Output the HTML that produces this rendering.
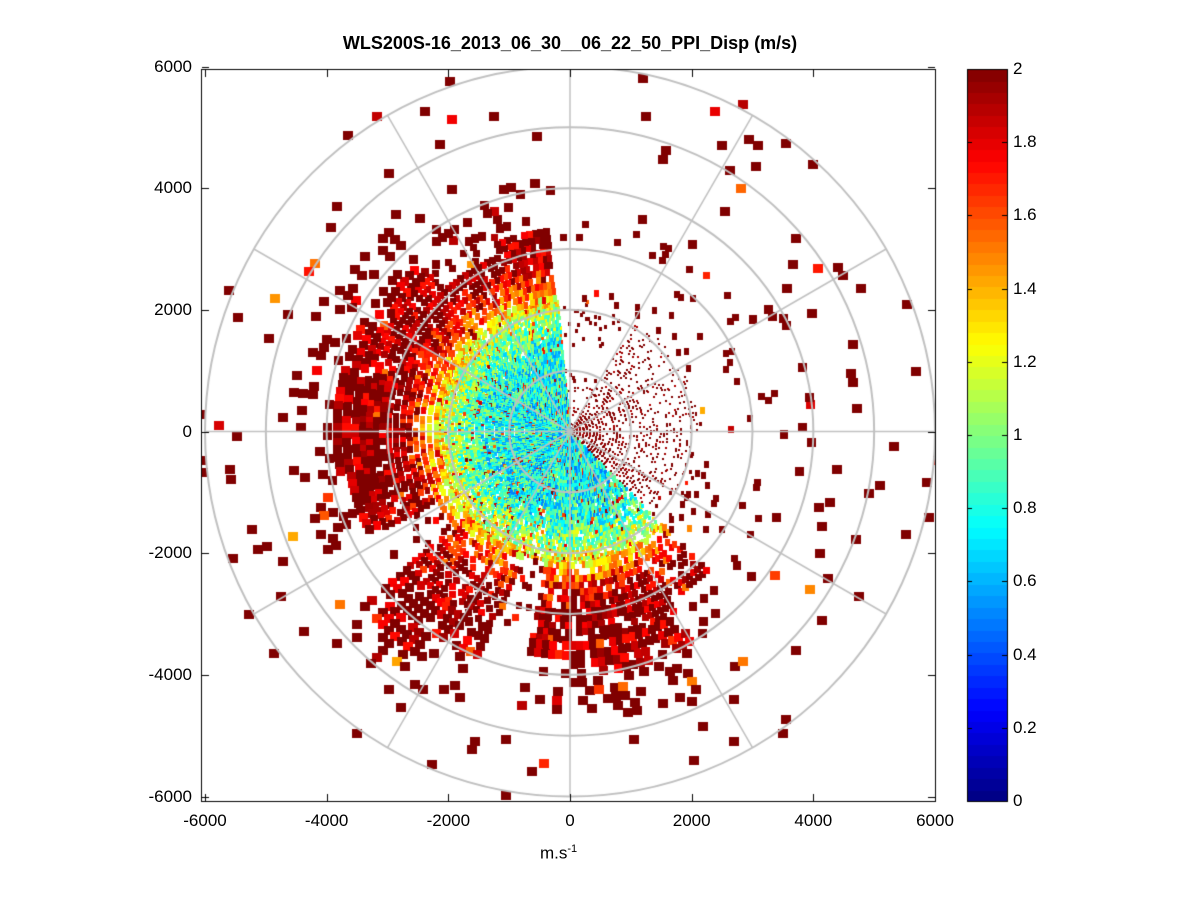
<!DOCTYPE html>
<html><head><meta charset="utf-8"><style>
body{margin:0;background:#fff;width:1201px;height:901px;overflow:hidden;font-family:"Liberation Sans",sans-serif}
#wrap{position:relative;width:1201px;height:901px}
.t{position:absolute;font-size:17px;color:#000;white-space:nowrap}
</style></head><body>
<div id="wrap">
<div class="t" style="left:0;width:1140px;text-align:center;top:33px;font-size:18px;font-weight:bold">WLS200S-16_2013_06_30__06_22_50_PPI_Disp (m/s)</div>
<canvas id="c" width="1201" height="901" style="position:absolute;left:0;top:0"></canvas>
<div class="t" style="left:540px;top:843px">m.s<sup style="font-size:11px">-1</sup></div>
<div id="labels"></div>
</div>
<script>
// Sector data: angle ranges (deg CCW from east), dense radius (m), fill density
const sectorStart=[95,110,130,150,170,190,207,218,235,248,258,275,300,315,330,0,60];
const sectorEnd=[110,130,150,170,190,207,218,235,248,258,275,300,315,330,360,60,95];
const sectorRadius=[3400,3100,3700,3900,3900,3700,2500,4500,4100,2200,3800,4000,3300,1800,2000,2100,800];
const sectorDensity=[0.85,0.85,0.9,0.92,0.92,0.9,0.8,0.85,0.75,0.7,0.85,0.8,0.6,0.3,0.2,0.2,0.05];
const sectorSpeckle=[0,0,0,0,0,0,0,0,0,0,0,0,0,1,1,1,1];
// Value profile vs range
const profileR=[0,1400,2000,2500,2900,6000];
const profileV=[0.75,0.8,1.1,1.7,2.0,2.0];
const xTicks=[-6000,-4000,-2000,0,2000,4000,6000];
const yTicks=[6000,4000,2000,0,-2000,-4000,-6000];
const cbTicks=[0,0.2,0.4,0.6,0.8,1,1.2,1.4,1.6,1.8,2];

const cx=570,cy=431.5,k=365/6000;
const X=v=>cx+v*k, Y=v=>cy-v*k;
const cv=document.getElementById('c'),g=cv.getContext('2d');
function jet(t){t=Math.max(0,Math.min(1,t));
 const f=x=>Math.max(0,Math.min(1,x));
 return 'rgb('+Math.round(255*f(1.5-Math.abs(4*t-3)))+','+Math.round(255*f(1.5-Math.abs(4*t-2)))+','+Math.round(255*f(1.5-Math.abs(4*t-1)))+')';}
let s=12345;function rnd(){s=(s*1103515245+12345)%2147483648;return s/2147483648;}
function prof(r){for(let i=1;i<profileR.length;i++)if(r<=profileR[i]){const a=(r-profileR[i-1])/(profileR[i]-profileR[i-1]);return profileV[i-1]+a*(profileV[i]-profileV[i-1]);}return 2;}
function sec(a){for(let i=0;i<sectorStart.length;i++)if(a>=sectorStart[i]&&a<sectorEnd[i])return i;return 0;}
g.save();g.beginPath();g.rect(201,69,734,732);g.clip();
let r=60;
while(r<6100){
 const dR=r<2200?55:(r<3500?110:150);
 const dA=r<2200?1.0:(r<3500?1.6:1.8);
 for(let a=0;a<360;a+=dA){
  const si=sec(a);
  let p;
  if(r<sectorRadius[si])p=sectorDensity[si];
  else if(r<sectorRadius[si]+800)p=sectorDensity[si]*0.3;
  else p=0.05;
  if(rnd()>p)continue;
  let v;
  const sp=sectorSpeckle[si]&&r<sectorRadius[si];
  if(sp)v=1.9+rnd()*0.2;
  else if(r>=sectorRadius[si])v=rnd()<0.88?2:1.4+rnd()*0.6;
  else {v=prof(r)+(rnd()-0.5)*0.6; if(rnd()<0.05)v=1.5+rnd()*0.5;}
  const th=(a+dA/2)*Math.PI/180;
  let w=Math.max(3,Math.min(10,r*k*dA*Math.PI/180*1.25));
  let h=Math.max(3.5,Math.min(9,dR*k*1.05));
  if(sp){w=Math.max(2,w*0.6);h=Math.max(2,h*0.6);}
  g.fillStyle=v>=1.95?'#800000':jet(v/2);
  g.fillRect(Math.round(X(r*Math.cos(th))-w/2),Math.round(Y(r*Math.sin(th))-h/2),Math.round(w),Math.round(h));
 }
 r+=dR;
}
g.strokeStyle='#c0c0c0';g.lineWidth=2;
for(let q=1000;q<=6000;q+=1000){g.beginPath();g.arc(cx,cy,q*k,0,2*Math.PI);g.stroke();}
g.lineWidth=1.5;
for(let a=0;a<360;a+=30){const t=a*Math.PI/180;g.beginPath();g.moveTo(cx,cy);g.lineTo(X(6000*Math.cos(t)),Y(6000*Math.sin(t)));g.stroke();}
g.restore();
g.strokeStyle='#000';g.lineWidth=1;g.strokeRect(201.5,69.5,734,732);
const L=document.getElementById('labels');
function lab(txt,x,y,al,name){const d=document.createElement('div');d.className='t';d.textContent=txt;
 
 
 d.style.top=(y-10)+'px';
 if(al==='c'){d.style.left=(x-50)+'px';d.style.width='100px';d.style.textAlign='center';}
 else if(al==='r'){d.style.left=(x-100)+'px';d.style.width='100px';d.style.textAlign='right';}
 else d.style.left=x+'px';
 L.appendChild(d);}
g.beginPath();
xTicks.forEach(v=>{const x=Math.round(X(v))+0.5;g.moveTo(x,801);g.lineTo(x,794);g.moveTo(x,70);g.lineTo(x,77);lab(String(v),X(v),821,'c','x-tick-label');});
yTicks.forEach(v=>{const y=Math.round(Y(v))+0.5;g.moveTo(202,y);g.lineTo(209,y);g.moveTo(935,y);g.lineTo(928,y);lab(String(v),192,Y(v),'r','y-tick-label');});
g.stroke();
const cb0=967,cb1=1007,ct=69,cbBot=801;
for(let i=0;i<64;i++){const y0=cbBot-(i+1)*(cbBot-ct)/64;g.fillStyle=jet((i+0.5)/64);g.fillRect(cb0,Math.floor(y0),cb1-cb0,Math.ceil((cbBot-ct)/64)+1);}
g.strokeStyle='#000';g.strokeRect(cb0+0.5,ct+0.5,cb1-cb0,cbBot-ct);
g.beginPath();
cbTicks.forEach(v=>{const y=Math.round(cbBot-v/2*(cbBot-ct))+0.5;g.moveTo(cb0,y);g.lineTo(cb0+5,y);g.moveTo(cb1,y);g.lineTo(cb1-5,y);lab(String(v),1013,cbBot-v/2*(cbBot-ct),'l','colorbar-tick-label');});
g.stroke();
</script>
</body></html>
